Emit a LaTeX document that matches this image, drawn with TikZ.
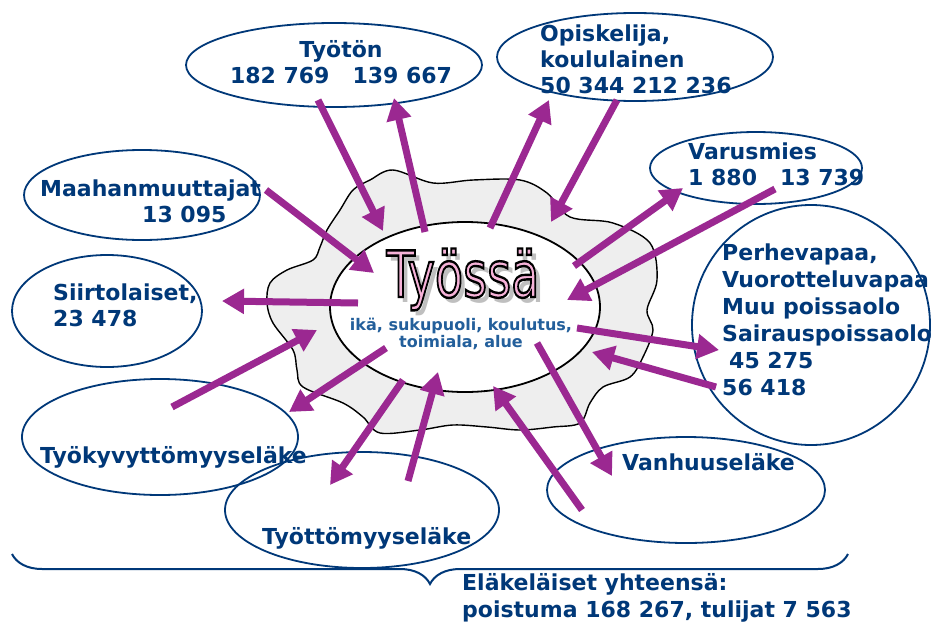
\documentclass[tikz,border=0pt]{standalone}
\usepackage{fontspec}
\setmainfont{DejaVu Sans}
\usetikzlibrary{arrows.meta,shapes.geometric,decorations.pathreplacing}

\definecolor{navy}{RGB}{0,56,120}
\definecolor{subblue}{RGB}{35,95,155}
\definecolor{plum}{RGB}{155,40,145}
\definecolor{cloudgray}{RGB}{238,238,238}
\definecolor{rosy}{RGB}{246,178,216}

% outlined text: fill in the current colour, black rim
\newcommand{\rimtext}[1]{\special{pdf:literal 2 Tr 2.4 w 0 0 0 RG}#1\special{pdf:literal 0 Tr}}

\tikzset{
  oval/.style={draw=navy,line width=1.8pt,ellipse,inner sep=0pt},
  lbl/.style={text=navy,font=\bfseries\fontsize{22}{26}\selectfont,align=left,inner sep=0pt,anchor=west},
  titletxt/.style={font=\fontsize{64}{64}\selectfont,xscale=0.72,anchor=base,inner sep=0pt},
  flow/.style={draw=plum,line width=7pt,-{Triangle[length=22pt,width=24pt]}}
}

\begin{document}
\begin{tikzpicture}[x=1pt,y=-1pt]
\useasboundingbox (0,0) rectangle (931,624);
\clip (0,0) rectangle (931,624);
\fill[white] (0,0) rectangle (931,624);

% the cloud round the work box
\draw[fill=cloudgray,line width=1.4pt] plot[smooth cycle,tension=0.55] coordinates {(340,210) (353,190) (370,180) (393,170) (433,183) (473,180) (520,180) (547,193) (570,217) (613,223) (650,243) (657,280) (647,310) (653,330) (643,357) (630,377) (603,387) (590,403) (580,423) (553,427) (520,430) (487,427) (453,425) (420,430) (380,433) (363,417) (343,403) (303,387) (297,370) (293,350) (273,323) (267,303) (270,283) (287,270) (313,260) (320,247) (327,230)};
\node[draw,ellipse,fill=white,line width=1.8pt,minimum width=270pt,minimum height=170pt,inner sep=0pt] (core) at (465,307) {};

% title with shadow
\node[titletxt,text=gray!50] (shade) at (468,302) {Työssä};
\node[titletxt,text=rosy] (title) at (463,297) {\rimtext{Työssä}};
\node[text=subblue,font=\bfseries\fontsize{16}{17}\selectfont,align=center,inner sep=0pt] (facets) at (461,334) {ikä, sukupuoli, koulutus,\\toimiala, alue};

% groups
\node[oval,minimum width=296pt,minimum height=84pt] (tyoton) at (334,65) {};
\node[oval,minimum width=276pt,minimum height=88pt] (opisk) at (635,57) {};
\node[oval,minimum width=212pt,minimum height=72pt] (varus) at (756,168) {};
\node[oval,minimum width=236pt,minimum height=90pt] (maahan) at (142,195) {};
\node[oval,minimum width=190pt,minimum height=112pt] (siirto) at (107,311) {};
\node[oval,minimum width=276pt,minimum height=116pt] (tkyky) at (160,437) {};
\node[oval,minimum width=274pt,minimum height=116pt] (ttomyys) at (362,510) {};
\node[oval,minimum width=278pt,minimum height=106pt] (vanhuus) at (686,490) {};
\node[oval,minimum width=238pt,minimum height=240pt] (perhe) at (811,325) {};

\node[lbl,align=center,anchor=center] (tyotonTxt) at (341,62) {Työtön\\182 769\ \ \ 139 667};
\node[lbl] (opiskTxt) at (540,59) {Opiskelija,\\koululainen\\50 344 212 236};
\node[lbl] (varusTxt) at (688,164) {Varusmies\\1 880\ \ \ 13 739};
\node[lbl] (maahanTxt) at (40,201) {Maahanmuuttajat\\\hspace*{102pt}13 095};
\node[lbl] (siirtoTxt) at (53,305) {Siirtolaiset,\\23 478};
\node[lbl] (tkykyTxt) at (40,457) {Työkyvyttömyyseläke};
\node[lbl] (ttomyysTxt) at (262,538) {Työttömyyseläke};
\node[lbl] (vanhuusTxt) at (622,462) {Vanhuuseläke};
\node[lbl,font=\bfseries\fontsize{22}{27}\selectfont] (perheTxt) at (722,320) {Perhevapaa,\\Vuorotteluvapaa\\Muu poissaolo\\Sairauspoissaolo\\\hspace*{7pt}45 275\\56 418};

% flows in and out
\foreach \ax/\ay/\bx/\by [count=\i] in {318/100/383/231, 425/232/394/98, 490/228/549/100, 617/100/551/222, 574/266/683/188, 775/189/567/300, 577/328/719/350, 716/387/592/352, 537/343/612/476, 582/510/493/386, 408/481/438/372, 403/380/330/485, 386/348/289/412, 172/407/317/330, 358/303/222/301, 266/190/374/273}{
  \coordinate (from\i) at (\ax,\ay);
  \coordinate (to\i) at (\bx,\by);
  \draw[flow] (from\i) -- (to\i);
}

% pensioners
\coordinate (braceL) at (12,554);
\coordinate (braceR) at (848,554);
\draw[navy,line width=2pt,decorate,decoration={brace,mirror,amplitude=30pt}] (braceL) -- (braceR);
\node[lbl,font=\bfseries\fontsize{22}{27}\selectfont] (elakeTxt) at (462,598) {Eläkeläiset yhteensä:\\poistuma 168 267, tulijat 7 563};
\end{tikzpicture}
\end{document}
